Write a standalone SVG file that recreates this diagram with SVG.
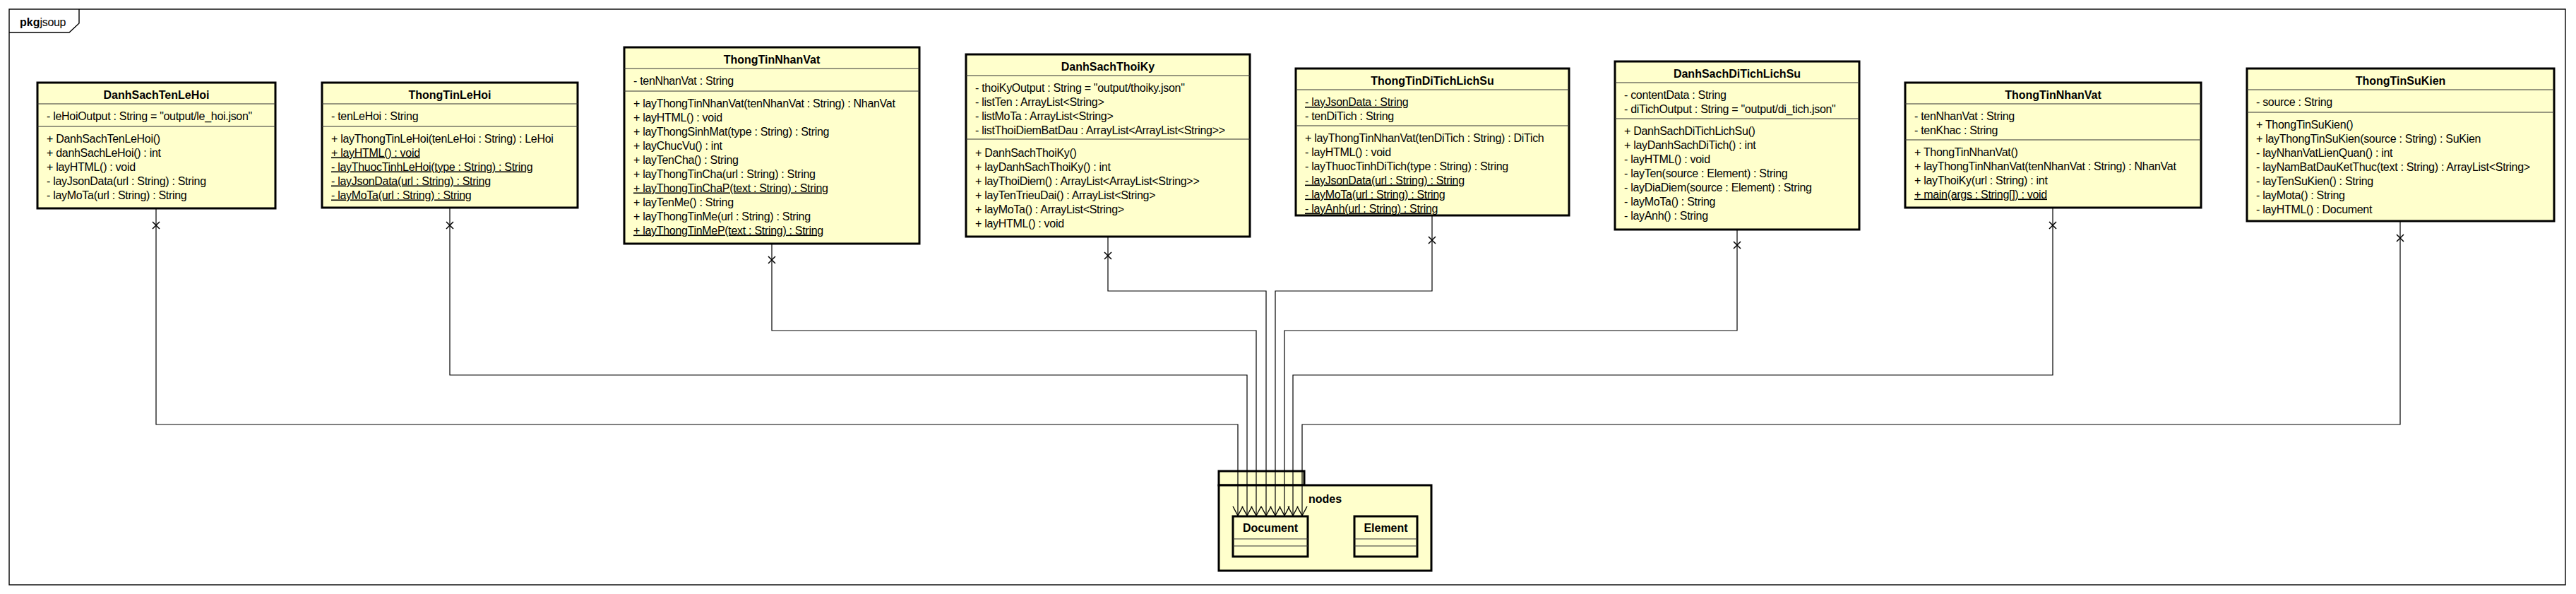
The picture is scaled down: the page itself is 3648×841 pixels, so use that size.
<svg xmlns="http://www.w3.org/2000/svg" width="3648" height="841" viewBox="0 0 3648 841">
<defs>
<style>
.t{font-family:"Liberation Sans",Arial,sans-serif;font-size:16px;fill:#000;letter-spacing:-0.3px}
.b{font-weight:bold;letter-spacing:0}
.n{font-family:"Liberation Sans",Arial,sans-serif;font-size:16px;font-weight:bold;fill:#000;text-anchor:middle}
.u{text-decoration:underline}
.box{fill:#ffffcc;stroke:#000;stroke-width:3}
.div{stroke:#333;stroke-width:1.2}
.c{fill:none;stroke:#000;stroke-width:1.2}
.x{fill:none;stroke:#000;stroke-width:1.5}
</style>
<marker id="open" markerUnits="userSpaceOnUse" markerWidth="16" markerHeight="16" viewBox="0 0 16 16" refX="14" refY="8" orient="auto">
<path d="M1,1 L14,8 L1,15" fill="none" stroke="#000" stroke-width="1.4"/>
</marker>
</defs>
<rect width="3648" height="841" fill="#fff"/>
<g id="frame">
<rect x="13" y="13" width="3620" height="815" fill="none" stroke="#000" stroke-width="1.4"/>
<path d="M13,46 L98,46 L112,33 L112,13" fill="none" stroke="#000" stroke-width="1.4"/>
<text x="28" y="37" class="t"><tspan class="b">pkg</tspan>jsoup</text>
</g>
<g id="pkg-nodes">
<rect x="1726" y="667" width="121" height="20" class="box"/>
<rect x="1726" y="687" width="301" height="121" class="box"/>
<text x="1853" y="712" class="t b">nodes</text>
</g>
<g id="Document">
<rect x="1746" y="731" width="106" height="57" class="box"/>
<text x="1799" y="753" class="n">Document</text>
<line x1="1746" y1="763" x2="1852" y2="763" class="div"/>
<line x1="1746" y1="773" x2="1852" y2="773" class="div"/>
</g>
<g id="Element">
<rect x="1918" y="731" width="89" height="57" class="box"/>
<text x="1962.5" y="753" class="n">Element</text>
<line x1="1918" y1="763" x2="2007" y2="763" class="div"/>
<line x1="1918" y1="773" x2="2007" y2="773" class="div"/>
</g>
<g id="DanhSachTenLeHoi">
<rect x="53" y="117" width="337" height="178" class="box"/>
<text x="221.5" y="139.5" class="n">DanhSachTenLeHoi</text>
<line x1="53" y1="147" x2="390" y2="147" class="div"/>
<text x="66" y="169.5" class="t">- leHoiOutput : String = "output/le_hoi.json"</text>
<line x1="53" y1="179" x2="390" y2="179" class="div"/>
<text x="66" y="201.5" class="t">+ DanhSachTenLeHoi()</text>
<text x="66" y="221.5" class="t">+ danhSachLeHoi() : int</text>
<text x="66" y="241.5" class="t">+ layHTML() : void</text>
<text x="66" y="261.5" class="t">- layJsonData(url : String) : String</text>
<text x="66" y="281.5" class="t">- layMoTa(url : String) : String</text>
</g>
<g id="ThongTinLeHoi">
<rect x="456" y="117" width="362" height="177" class="box"/>
<text x="637" y="139.5" class="n">ThongTinLeHoi</text>
<line x1="456" y1="147" x2="818" y2="147" class="div"/>
<text x="469" y="169.5" class="t">- tenLeHoi : String</text>
<line x1="456" y1="179" x2="818" y2="179" class="div"/>
<text x="469" y="201.5" class="t">+ layThongTinLeHoi(tenLeHoi : String) : LeHoi</text>
<text x="469" y="221.5" class="t u">+ layHTML() : void</text>
<text x="469" y="241.5" class="t u">- layThuocTinhLeHoi(type : String) : String</text>
<text x="469" y="261.5" class="t u">- layJsonData(url : String) : String</text>
<text x="469" y="281.5" class="t u">- layMoTa(url : String) : String</text>
</g>
<g id="ThongTinNhanVat1">
<rect x="884" y="67" width="418" height="278" class="box"/>
<text x="1093" y="89.5" class="n">ThongTinNhanVat</text>
<line x1="884" y1="97" x2="1302" y2="97" class="div"/>
<text x="897" y="119.5" class="t">- tenNhanVat : String</text>
<line x1="884" y1="129" x2="1302" y2="129" class="div"/>
<text x="897" y="151.5" class="t">+ layThongTinNhanVat(tenNhanVat : String) : NhanVat</text>
<text x="897" y="171.5" class="t">+ layHTML() : void</text>
<text x="897" y="191.5" class="t">+ layThongSinhMat(type : String) : String</text>
<text x="897" y="211.5" class="t">+ layChucVu() : int</text>
<text x="897" y="231.5" class="t">+ layTenCha() : String</text>
<text x="897" y="251.5" class="t">+ layThongTinCha(url : String) : String</text>
<text x="897" y="271.5" class="t u">+ layThongTinChaP(text : String) : String</text>
<text x="897" y="291.5" class="t">+ layTenMe() : String</text>
<text x="897" y="311.5" class="t">+ layThongTinMe(url : String) : String</text>
<text x="897" y="331.5" class="t u">+ layThongTinMeP(text : String) : String</text>
</g>
<g id="DanhSachThoiKy">
<rect x="1368" y="77" width="402" height="258" class="box"/>
<text x="1569" y="99.5" class="n">DanhSachThoiKy</text>
<line x1="1368" y1="107" x2="1770" y2="107" class="div"/>
<text x="1381" y="129.5" class="t">- thoiKyOutput : String = "output/thoiky.json"</text>
<text x="1381" y="149.5" class="t">- listTen : ArrayList&lt;String&gt;</text>
<text x="1381" y="169.5" class="t">- listMoTa : ArrayList&lt;String&gt;</text>
<text x="1381" y="189.5" class="t">- listThoiDiemBatDau : ArrayList&lt;ArrayList&lt;String&gt;&gt;</text>
<line x1="1368" y1="197" x2="1770" y2="197" class="div"/>
<text x="1381" y="221.5" class="t">+ DanhSachThoiKy()</text>
<text x="1381" y="241.5" class="t">+ layDanhSachThoiKy() : int</text>
<text x="1381" y="261.5" class="t">+ layThoiDiem() : ArrayList&lt;ArrayList&lt;String&gt;&gt;</text>
<text x="1381" y="281.5" class="t">+ layTenTrieuDai() : ArrayList&lt;String&gt;</text>
<text x="1381" y="301.5" class="t">+ layMoTa() : ArrayList&lt;String&gt;</text>
<text x="1381" y="321.5" class="t">+ layHTML() : void</text>
</g>
<g id="ThongTinDiTichLichSu">
<rect x="1835" y="97" width="387" height="208" class="box"/>
<text x="2028.5" y="119.5" class="n">ThongTinDiTichLichSu</text>
<line x1="1835" y1="127" x2="2222" y2="127" class="div"/>
<text x="1848" y="150" class="t u">- layJsonData : String</text>
<text x="1848" y="170" class="t">- tenDiTich : String</text>
<line x1="1835" y1="178" x2="2222" y2="178" class="div"/>
<text x="1848" y="200.5" class="t">+ layThongTinNhanVat(tenDiTich : String) : DiTich</text>
<text x="1848" y="220.5" class="t">- layHTML() : void</text>
<text x="1848" y="240.5" class="t">- layThuocTinhDiTich(type : String) : String</text>
<text x="1848" y="260.5" class="t u">- layJsonData(url : String) : String</text>
<text x="1848" y="280.5" class="t u">- layMoTa(url : String) : String</text>
<text x="1848" y="300.5" class="t u">- layAnh(url : String) : String</text>
</g>
<g id="DanhSachDiTichLichSu">
<rect x="2287" y="87" width="346" height="238" class="box"/>
<text x="2460" y="109.5" class="n">DanhSachDiTichLichSu</text>
<line x1="2287" y1="117" x2="2633" y2="117" class="div"/>
<text x="2300" y="139.5" class="t">- contentData : String</text>
<text x="2300" y="159.5" class="t">- diTichOutput : String = "output/di_tich.json"</text>
<line x1="2287" y1="168" x2="2633" y2="168" class="div"/>
<text x="2300" y="190.5" class="t">+ DanhSachDiTichLichSu()</text>
<text x="2300" y="210.5" class="t">+ layDanhSachDiTich() : int</text>
<text x="2300" y="230.5" class="t">- layHTML() : void</text>
<text x="2300" y="250.5" class="t">- layTen(source : Element) : String</text>
<text x="2300" y="270.5" class="t">- layDiaDiem(source : Element) : String</text>
<text x="2300" y="290.5" class="t">- layMoTa() : String</text>
<text x="2300" y="310.5" class="t">- layAnh() : String</text>
</g>
<g id="ThongTinNhanVat2">
<rect x="2698" y="117" width="419" height="177" class="box"/>
<text x="2907.5" y="139.5" class="n">ThongTinNhanVat</text>
<line x1="2698" y1="147" x2="3117" y2="147" class="div"/>
<text x="2711" y="169.5" class="t">- tenNhanVat : String</text>
<text x="2711" y="189.5" class="t">- tenKhac : String</text>
<line x1="2698" y1="198" x2="3117" y2="198" class="div"/>
<text x="2711" y="220.5" class="t">+ ThongTinNhanVat()</text>
<text x="2711" y="240.5" class="t">+ layThongTinNhanVat(tenNhanVat : String) : NhanVat</text>
<text x="2711" y="260.5" class="t">+ layThoiKy(url : String) : int</text>
<text x="2711" y="280.5" class="t u">+ main(args : String[]) : void</text>
</g>
<g id="ThongTinSuKien">
<rect x="3182" y="97" width="435" height="216" class="box"/>
<text x="3399.5" y="119.5" class="n">ThongTinSuKien</text>
<line x1="3182" y1="127" x2="3617" y2="127" class="div"/>
<text x="3195" y="149.5" class="t">- source : String</text>
<line x1="3182" y1="159" x2="3617" y2="159" class="div"/>
<text x="3195" y="181.5" class="t">+ ThongTinSuKien()</text>
<text x="3195" y="201.5" class="t">+ layThongTinSuKien(source : String) : SuKien</text>
<text x="3195" y="221.5" class="t">- layNhanVatLienQuan() : int</text>
<text x="3195" y="241.5" class="t">- layNamBatDauKetThuc(text : String) : ArrayList&lt;String&gt;</text>
<text x="3195" y="261.5" class="t">- layTenSuKien() : String</text>
<text x="3195" y="281.5" class="t">- layMota() : String</text>
<text x="3195" y="301.5" class="t">- layHTML() : Document</text>
</g>
<g id="connectors">
<polyline class="c" marker-end="url(#open)" points="221,296 221,601 1753,601 1753,730"/>
<polyline class="c" marker-end="url(#open)" points="637,295 637,531 1766,531 1766,730"/>
<polyline class="c" marker-end="url(#open)" points="1093,346 1093,468 1779,468 1779,730"/>
<polyline class="c" marker-end="url(#open)" points="1569,336 1569,412 1793,412 1793,730"/>
<polyline class="c" marker-end="url(#open)" points="2028,306 2028,412 1806,412 1806,730"/>
<polyline class="c" marker-end="url(#open)" points="2460,326 2460,468 1819,468 1819,730"/>
<polyline class="c" marker-end="url(#open)" points="2907,295 2907,531 1831,531 1831,730"/>
<polyline class="c" marker-end="url(#open)" points="3399,314 3399,601 1844,601 1844,730"/>
<path class="x" d="M216,314 l10,10 M226,314 l-10,10"/>
<path class="x" d="M632,314 l10,10 M642,314 l-10,10"/>
<path class="x" d="M1088,363 l10,10 M1098,363 l-10,10"/>
<path class="x" d="M1564,357 l10,10 M1574,357 l-10,10"/>
<path class="x" d="M2023,335 l10,10 M2033,335 l-10,10"/>
<path class="x" d="M2455,342 l10,10 M2465,342 l-10,10"/>
<path class="x" d="M2902,314 l10,10 M2912,314 l-10,10"/>
<path class="x" d="M3394,332 l10,10 M3404,332 l-10,10"/>
</g>
</svg>
